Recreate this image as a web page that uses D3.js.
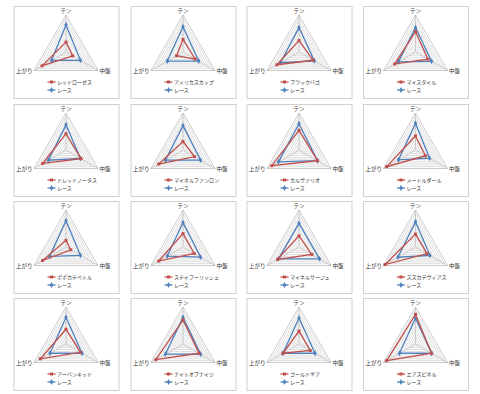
<!DOCTYPE html>
<html>
<head>
<meta charset="utf-8">
<script src="https://cdn.jsdelivr.net/npm/d3@7"></script>
<style>
  body { margin: 0; background: #fff; }
  text { font-family: "Noto Sans CJK JP", sans-serif; fill: #333; }
</style>
</head>
<body>
<div id="chart"></div>
<script>
// axes of each radar
var axes = ["テン", "中盤", "上がり"];
var horses = ["レッドローゼス", "アメリカズカップ", "ブラックバゴ", "マイスタイル",
  "ドレッドノータス", "マイネルファンロン", "カルヴァリオ", "メートルダール",
  "ポポカテペトル", "ステイフーリッシュ", "マイネルサージュ", "スズカデヴィアス",
  "アーバンキッド", "ナイトオブナイツ", "ゴールドギア", "エアスピネル"];
var raceName = "レース";
// values per horse: [テン, 中盤, 上がり]
var horseVals = [
  [2.7, 2.1, 7.5], [3.4, 3.8, 2.0], [3.1, 4.4, 6.9], [5.5, 3.9, 6.5],
  [4.4, 4.7, 7.3], [2.3, 3.6, 7.6], [5.3, 5.8, 8.5], [3.8, 3.1, 9.0],
  [1.8, 1.5, 7.3], [3.6, 3.5, 7.6], [3.0, 4.0, 6.7], [3.5, 3.6, 9.5],
  [4.0, 4.5, 8.0], [6.5, 5.0, 8.5], [3.5, 3.5, 5.0], [8.0, 5.0, 9.0]
];
var raceVals = [
  [7.3, 4.5, 4.5], [6.8, 4.9, 4.9], [6.6, 4.8, 5.8], [6.6, 5.0, 5.3],
  [6.8, 4.5, 5.5], [6.6, 5.5, 5.5], [7.1, 5.8, 6.4], [7.2, 4.4, 5.3],
  [7.1, 4.5, 5.1], [6.6, 5.5, 4.9], [6.4, 6.4, 6.4], [6.8, 4.5, 5.5],
  [7.2, 5.0, 5.0], [7.2, 5.5, 5.5], [7.0, 5.0, 5.0], [7.0, 5.0, 5.0]
];
var ticks = [0, 1, 2, 3, 4, 5, 6, 7, 8, 9, 10];

var width = 480, height = 394;
var colX = [13.5, 130.5, 246.5, 363], rowY = [6, 104, 201, 298];
var boxW = 105, boxH = 92, R = 37;

var svg = d3.select("#chart").append("svg")
  .attr("width", width)
  .attr("height", height);

var r = d3.scaleLinear().domain([0, 10]).range([0, R]);
var angle = d3.scalePoint().domain(axes).range([0, 240]);

function pt(ax, v) {
  var a = (angle(ax) - 90) * Math.PI / 180;
  return [r(v) * Math.cos(a), r(v) * Math.sin(a)];
}

function sym(m) {
  return d3.symbol().type(m == "square" ? d3.symbolSquare : d3.symbolDiamond).size(m == "square" ? 9 : 10);
}

horses.forEach(function (name, i) {
  var g = svg.append("g")
    .attr("transform", "translate(" + colX[i % 4] + "," + rowY[Math.floor(i / 4)] + ")");

  g.append("rect")
    .attr("x", 0.5).attr("y", 0.5)
    .attr("width", boxW).attr("height", boxH)
    .attr("fill", "#fff")
    .attr("stroke", "#d0d0d0");

  var c = g.append("g").attr("transform", "translate(52.5,46)");

  // grid rings
  c.selectAll("path.ring").data(ticks.slice(1)).enter().append("path")
    .attr("class", "ring")
    .attr("d", function (t) {
      return "M" + axes.map(function (ax) { return pt(ax, t); }).join("L") + "Z";
    })
    .attr("fill", "none")
    .attr("stroke", function (t) { return t == 10 ? "#a6a6a6" : "#c8c8c8"; })
    .attr("stroke-width", 0.6);

  c.selectAll("line.spoke").data(axes).enter().append("line")
    .attr("class", "spoke")
    .attr("x2", function (ax) { return pt(ax, 10)[0]; })
    .attr("y2", function (ax) { return pt(ax, 10)[1]; })
    .attr("stroke", "#b0b0b0")
    .attr("stroke-width", 0.6);

  // axis labels
  c.selectAll("text.ax").data(axes).enter().append("text")
    .attr("class", "ax")
    .attr("x", function (ax) { var p = pt(ax, 10); return p[0] + (p[0] > 1 ? 1.5 : p[0] < -1 ? -1.5 : 0); })
    .attr("y", function (ax) { var p = pt(ax, 10); return p[1] + (p[1] < 0 ? -2.5 : 2); })
    .attr("text-anchor", function (ax) { var p = pt(ax, 10); return p[0] > 1 ? "start" : p[0] < -1 ? "end" : "middle"; })
    .attr("font-size", 5.5)
    .text(function (ax) { return ax; });

  var series = [
    { vals: horseVals[i], color: "#c0504d", marker: "square" },
    { vals: raceVals[i], color: "#4f81bd", marker: "diamond" }
  ];
  // draw race first so the horse sits on top
  series.slice().reverse().forEach(function (s) {
    var pts = axes.map(function (ax, k) { return pt(ax, s.vals[k]); });
    c.append("path")
      .attr("d", "M" + pts.join("L") + "Z")
      .attr("fill", "none")
      .attr("stroke", s.color)
      .attr("stroke-width", 1.3);
    c.selectAll(null).data(pts).enter().append("path")
      .attr("transform", function (p) { return "translate(" + p + ")"; })
      .attr("d", sym(s.marker))
      .attr("fill", s.color);
  });

  // legend
  var leg = g.selectAll("g.leg").data([
    { label: name, color: "#c0504d", marker: "square" },
    { label: raceName, color: "#4f81bd", marker: "diamond" }
  ]).enter().append("g")
    .attr("class", "leg")
    .attr("transform", function (d, k) { return "translate(34," + (76 + k * 8) + ")"; });
  leg.append("line")
    .attr("x2", 8)
    .attr("stroke", function (d) { return d.color; })
    .attr("stroke-width", 1.3);
  leg.append("path")
    .attr("transform", "translate(4,0)")
    .attr("d", function (d) { return sym(d.marker)(); })
    .attr("fill", function (d) { return d.color; });
  leg.append("text")
    .attr("x", 9.5)
    .attr("y", 1.8)
    .attr("font-size", 5)
    .text(function (d) { return d.label; });
});
</script>
</body>
</html>
